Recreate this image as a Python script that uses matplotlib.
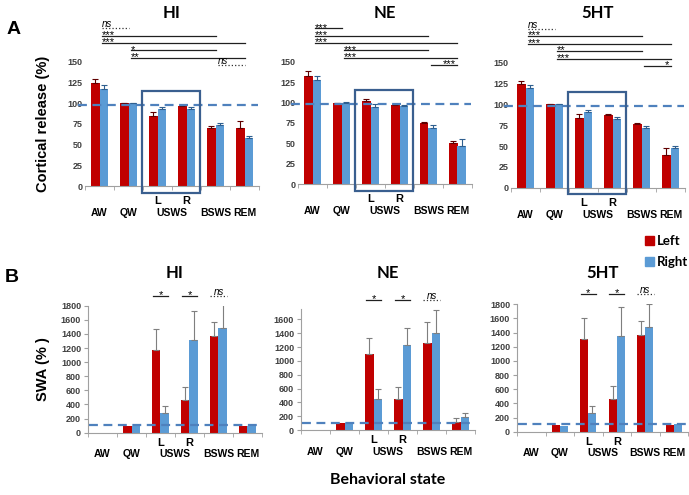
import numpy as np
import matplotlib
matplotlib.use('Agg')
import matplotlib.pyplot as plt
from matplotlib.patches import Rectangle

plt.rcParams['font.family'] = ['Liberation Sans', 'DejaVu Sans']

# ---- data ----
states = ['AW', 'QW', 'L', 'R', 'BSWS', 'REM']
groups = ['HI', 'NE', '5HT']

# panel A : cortical release (%)
rel_left = {'HI': [125, 100, 85, 97, 70, 70],
            'NE': [132, 99, 102, 97, 75, 50],
            '5HT': [124, 100, 84, 87, 76, 39]}
rel_left_err = {'HI': [4, 1, 4, 1, 2, 9],
                'NE': [7, 1, 2, 1, 1.5, 3],
                '5HT': [4, 1, 4, 1.5, 1.5, 9]}
rel_right = {'HI': [117, 100, 93, 93, 74, 58],
             'NE': [128, 99.5, 94, 96, 69, 47],
             '5HT': [120, 100, 91, 82, 72, 48]}
rel_right_err = {'HI': [5, 1, 2, 2, 2, 3],
                 'NE': [4, 1, 4, 1, 3, 9],
                 '5HT': [3, 1, 2.5, 2.5, 2, 2.5]}

# significance bars for panel A: (from, to, label)
rel_sig = {'HI': [(0, 1, 'ns'), (0, 4, '***'), (0, 5, '***'), (1, 4, '*'), (1, 5, '**'), (4, 5, 'ns')],
           'NE': [(0, 1, '***'), (0, 4, '***'), (0, 5, '***'), (1, 4, '***'), (1, 5, '***'), (4, 5, '***')],
           '5HT': [(0, 1, 'ns'), (0, 4, '***'), (0, 5, '***'), (1, 4, '**'), (1, 5, '***'), (4, 5, '*')]}

# panel B : SWA (%)
swa_left = {'HI': [0, 90, 1170, 460, 1370, 95],
            'NE': [0, 95, 1095, 450, 1255, 120],
            '5HT': [0, 90, 1305, 460, 1360, 100]}
swa_left_err = {'HI': [0, 0, 295, 190, 200, 0],
                'NE': [0, 0, 230, 165, 310, 60],
                '5HT': [0, 0, 300, 185, 200, 0]}
swa_right = {'HI': [0, 90, 280, 1310, 1480, 90],
             'NE': [0, 95, 450, 1230, 1410, 190],
             '5HT': [0, 85, 270, 1350, 1475, 105]}
swa_right_err = {'HI': [0, 0, 95, 410, 340, 0],
                 'NE': [0, 0, 145, 245, 325, 60],
                 '5HT': [0, 0, 95, 405, 330, 0]}
swa_sig = [(2, '*'), (3, '*'), (4, 'ns')]

RED = '#C00000'
BLUE = '#5B9BD5'
W, H = 689, 495

fig = plt.figure(figsize=(W / 100, H / 100), dpi=100)


def px_axes(l, r, y0, ytop):
    return fig.add_axes([l / W, (H - y0) / H, (r - l) / W, (y0 - ytop) / H])


def base_style(ax, left_spine):
    for s in ['top', 'right']:
        ax.spines[s].set_visible(False)
    ax.spines['left'].set_visible(left_spine)
    ax.spines['left'].set_color('#A0A0A0')
    ax.spines['bottom'].set_color('#A0A0A0')
    ax.set_xlim(-0.5, 5.5)
    ax.set_xticks([])
    ax.set_xticks(np.arange(-0.5, 6, 1), minor=True)
    ax.tick_params(axis='x', which='minor', length=3, color='#A0A0A0', direction='out')
    ax.tick_params(axis='y', length=3 if left_spine else 0, color='#A0A0A0',
                   labelsize=6.5, labelcolor='#404040', pad=2)
    for t in ax.get_yticklabels():
        t.set_fontweight('bold')


def cat_labels(ax, off_lr, off_grp):
    for x, s in [(2, 'L'), (3, 'R')]:
        ax.annotate(s, xy=(x, 0), xycoords=('data', 'axes fraction'), xytext=(0, -off_lr),
                    textcoords='offset points', ha='center', va='center',
                    fontsize=8, fontweight='bold', annotation_clip=False)
    for x, s in [(0, 'AW'), (1, 'QW'), (2.5, 'USWS'), (4, 'BSWS'), (5, 'REM')]:
        ax.annotate(s, xy=(x, 0), xycoords=('data', 'axes fraction'), xytext=(0, -off_grp),
                    textcoords='offset points', ha='center', va='center',
                    fontsize=7.5, fontweight='bold', annotation_clip=False)


def draw_bars(ax, lv, le, rv, re, ecol_l, ecol_r, cap):
    x = np.arange(len(states))
    ax.bar(x - 0.14, lv, 0.28, color=RED, zorder=2)
    ax.bar(x + 0.14, rv, 0.28, color=BLUE, zorder=2)
    for xs, v, e, c in [(x - 0.14, lv, le, ecol_l), (x + 0.14, rv, re, ecol_r)]:
        v = np.array(v, float)
        e = np.array(e, float)
        m = e > 0
        ax.errorbar(xs[m], v[m], yerr=[np.zeros(m.sum()), e[m]], fmt='none',
                    ecolor=c, elinewidth=0.8, capsize=cap, capthick=0.8, zorder=3)


# ---- panel A ----
top_rects = {'HI': (85, 259, 186, 62), 'NE': (298, 472, 184.3, 61.7), '5HT': (511, 685, 187.7, 62.7)}
sig_rows = [191, 182, 173, 164, 155, 146]
for g in groups:
    l, r, y0, yt = top_rects[g]
    ax = px_axes(l, r, y0, yt)
    draw_bars(ax, rel_left[g], rel_left_err[g], rel_right[g], rel_right_err[g],
              '#600000', '#2F5F8F', 2)
    ax.set_ylim(0, 150)
    ax.set_yticks(np.arange(0, 151, 25))
    base_style(ax, False)
    ax.plot([-0.75, 5.45], [98, 98], ls=(0, (4, 2.5)), color='#4F81BD', lw=1.6,
            clip_on=False, zorder=4)
    ax.add_patch(Rectangle((1.46, -8), 2.0, 123, fill=False, ec='#3A5F8F', lw=1.6,
                           clip_on=False, zorder=5))
    for i, (a, b, lab) in enumerate(rel_sig[g]):
        y = sig_rows[i]
        x1, x2 = a + 0.08, b
        if lab == 'ns':
            ax.plot([x1, x2], [y, y], ls=':', color='#303030', lw=0.9, clip_on=False)
            ax.text(x1, y + 1, 'ns', style='italic', fontsize=7, ha='left', va='baseline')
        else:
            ax.plot([x1, x2], [y, y], color='#202020', lw=0.9, clip_on=False)
            if i == len(rel_sig[g]) - 1:
                ax.text(x2 - 0.05, y - 3, lab, fontsize=8, ha='right', va='baseline')
            else:
                ax.text(x1, y - 3, lab, fontsize=8, ha='left', va='baseline')
    cat_labels(ax, 10.8, 19.4)
    fig.text((l + r) / 2 / W, 1 - 13 / H, g, fontsize=12, fontweight='bold',
             family=['Lato', 'DejaVu Sans'], ha='center', va='center')
    if g == 'HI':
        ax.set_ylabel('Cortical release (%)', fontsize=10.5, fontweight='bold', labelpad=12)

# ---- panel B ----
bot_rects = {'HI': (88, 262, 432.7, 305.7, 1800, np.arange(0, 1801, 200)),
             'NE': (301, 475, 430, 309, 1750, np.arange(0, 1601, 200)),
             '5HT': (517, 688, 431.7, 304.3, 1800, np.arange(0, 1801, 200))}
for g in groups:
    l, r, y0, yt, ymax, ticks = bot_rects[g]
    ax = px_axes(l, r, y0, yt)
    draw_bars(ax, swa_left[g], swa_left_err[g], swa_right[g], swa_right_err[g],
              '#7F7F7F', '#7F7F7F', 2.5)
    ax.set_ylim(0, ymax)
    ax.set_yticks(ticks)
    base_style(ax, True)
    ax.plot([-0.45, 5.45], [105, 105], ls=(0, (4, 2.5)), color='#4F81BD', lw=1.6,
            clip_on=False, zorder=4)
    ysig = 1940 * ymax / 1800
    for x, lab in swa_sig:
        if lab == 'ns':
            ax.plot([x - 0.3, x + 0.3], [ysig, ysig], ls=':', color='#303030', lw=0.9, clip_on=False)
            ax.text(x, ysig + 15, 'ns', style='italic', fontsize=7, ha='center', va='baseline')
        else:
            ax.plot([x - 0.27, x + 0.27], [ysig, ysig], color='#202020', lw=0.9, clip_on=False)
            ax.text(x, ysig - 30, lab, fontsize=8, ha='center', va='baseline')
    cat_labels(ax, 7.2, 15.5)
    fig.text((l + r) / 2 / W, 1 - 273 / H, g, fontsize=12, fontweight='bold',
             family=['Lato', 'DejaVu Sans'], ha='center', va='center')
    if g == 'HI':
        ax.set_ylabel('SWA (% )', fontsize=10.5, fontweight='bold', labelpad=8)
    if g == 'NE':
        ax.annotate('Behavioral state', xy=(0.5, 0), xycoords='axes fraction',
                    xytext=(0, -36), textcoords='offset points', ha='center', va='center',
                    fontsize=11.5, fontweight='bold', family=['Lato', 'DejaVu Sans'],
                    annotation_clip=False)

# panel letters
fig.text(7 / W, 1 - 30 / H, 'A', fontsize=14, fontweight='bold', va='center')
fig.text(5 / W, 1 - 277 / H, 'B', fontsize=14, fontweight='bold', va='center')

# legend
for yy, c, s in [(241, RED, 'Left'), (262, BLUE, 'Right')]:
    fig.patches.append(Rectangle((645 / W, 1 - (yy + 4) / H), 9 / W, 9 / H, color=c,
                                 transform=fig.transFigure))
    fig.text(657 / W, 1 - yy / H, s, fontsize=9.5, fontweight='bold',
             family=['Lato', 'DejaVu Sans'], va='center')

fig.savefig('out.png', dpi=100)
